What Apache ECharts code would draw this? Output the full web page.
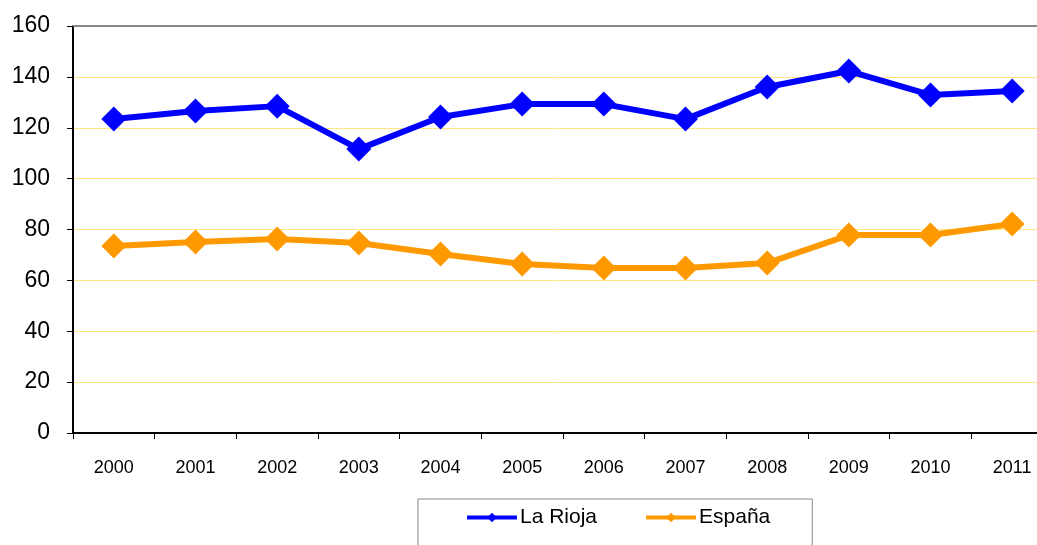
<!DOCTYPE html>
<html>
<head>
<meta charset="utf-8">
<script src="https://cdn.jsdelivr.net/npm/echarts@6/dist/echarts.min.js"></script>
<style>
  html, body { margin: 0; padding: 0; background: #fff; }
  #chart { width: 1037px; height: 545px; }
</style>
</head>
<body>
<div id="chart"></div>
<script>
const years = ['2000', '2001', '2002', '2003', '2004', '2005', '2006', '2007', '2008', '2009', '2010', '2011']
const laRioja = [123.4, 126.6, 128.5, 111.6, 124.2, 129.3, 129.3, 123.4, 136.0, 142.3, 132.9, 134.4]
const espana = [73.5, 75.1, 76.3, 74.7, 70.4, 66.4, 64.9, 64.9, 66.8, 77.8, 77.8, 82.2]

const chart = echarts.init(document.getElementById('chart'))

const font = 'Liberation Sans, Arial, sans-serif'

// 系列样式
function lineSeries(name, data, color) {
  return {
    name: name,
    type: 'line',
    data: data,
    symbol: 'diamond',
    symbolSize: [25, 25],
    lineStyle: { color: color, width: 6 },
    itemStyle: { color: color },
    emphasis: { disabled: true }
  }
}

chart.setOption({
  animation: false,
  // 绘图区比窗口更宽，右侧被裁掉
  grid: { left: 73, right: -16, top: 26, bottom: 112, outerBoundsMode: 'none', containLabel: false },
  legend: {
    left: 418,
    top: 499,
    padding: [8, 42, 30, 47],
    borderColor: '#888',
    borderWidth: 1,
    itemGap: 47,
    itemWidth: 50,
    itemHeight: 12,
    lineStyle: { width: 4 },
    textStyle: { fontFamily: font, fontSize: 21, color: '#000', padding: [0, 0, 0, -2] },
    data: ['La Rioja', 'España']
  },
  xAxis: [{
    type: 'category',
    data: years,
    boundaryGap: true,
    axisLine: { lineStyle: { color: '#000', width: 2 } },
    axisTick: { show: true, length: 6, lineStyle: { color: '#000' } },
    axisLabel: { fontFamily: font, fontSize: 18, color: '#000', margin: 26 }
  }, {
    type: 'category',
    data: years,
    position: 'top',
    axisLine: { lineStyle: { color: '#888', width: 2 } },
    axisTick: { show: false },
    axisLabel: { show: false }
  }],
  yAxis: {
    type: 'value',
    min: 0,
    max: 160,
    interval: 20,
    axisLine: { show: true, lineStyle: { color: '#000', width: 2 } },
    axisTick: { show: true, length: 6, lineStyle: { color: '#000' } },
    axisLabel: { fontFamily: font, fontSize: 23, color: '#000', margin: 23 },
    splitLine: { lineStyle: { color: '#ffe680', width: 1 } }
  },
  series: [
    lineSeries('La Rioja', laRioja, '#0000ff'),
    lineSeries('España', espana, '#ff9900')
  ]
})
</script>
</body>
</html>
